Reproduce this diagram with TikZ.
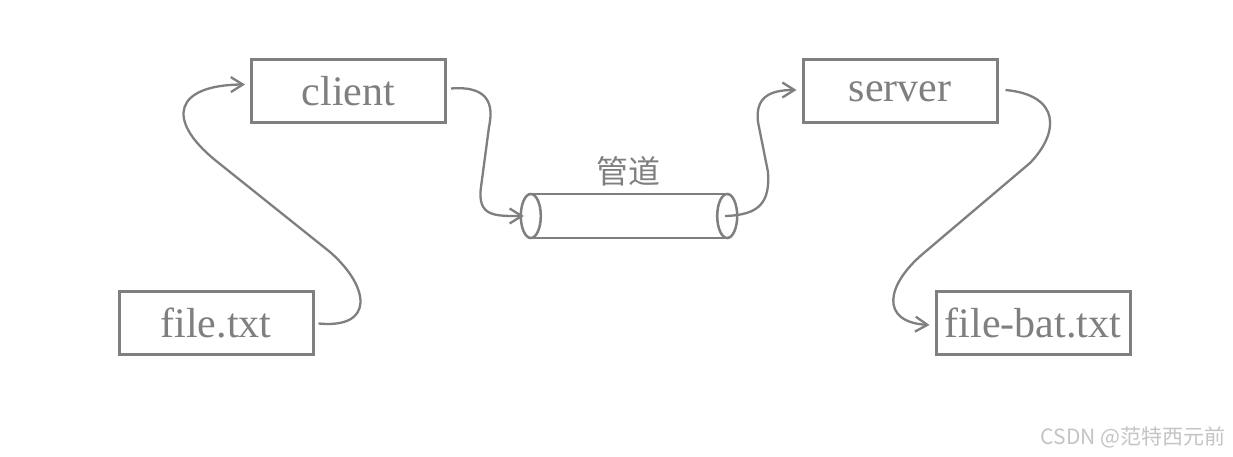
\documentclass[tikz,border=0pt]{standalone}
\usepackage{fontspec}
\setmainfont{Liberation Serif}
\newfontfamily\cjk{Noto Sans CJK SC}
\usetikzlibrary{arrows.meta}
\definecolor{ln}{HTML}{7F7F7F}
\definecolor{wm}{HTML}{C4C4C4}
\begin{document}
\begin{tikzpicture}[x=1pt,y=1pt,
  box/.style={draw=ln, line width=3pt, minimum width=194pt, minimum height=63pt, inner sep=0pt, text=ln, font=\fontsize{42}{46}\selectfont},
  conn/.style={draw=ln, line width=2.3pt, -{Straight Barb[length=12pt,width=15pt,line width=2.3pt]}},
  pipeline/.style={draw=ln, line width=2.5pt}]
\useasboundingbox[fill=white] (0,0) rectangle (1233,457);
\node[box] (client) at (348.5,365.5) {client};
\node[box] (file) at (216,133.5) {file.txt};
\node[box] (server) at (900,365.5) {server};
\node[box] (filebat) at (1033,133.5) {file-bat.txt};
% pipe
\node[minimum width=198pt, minimum height=44pt, inner sep=0pt] (pipe) at (629,241) {};
\node[text=ln, font=\cjk\fontsize{32}{34}\selectfont] (lbl) at (628,286) {管道};
\draw[pipeline] ([xshift=1pt]pipe.north west) -- ([xshift=-1pt]pipe.north east);
\draw[pipeline] ([xshift=1pt]pipe.south west) -- ([xshift=-1pt]pipe.south east);
\draw[pipeline] ([xshift=1pt]pipe.west) ellipse [x radius=10pt, y radius=22pt];
\draw[pipeline] ([xshift=-1pt]pipe.east) ellipse [x radius=10pt, y radius=22pt];
% connectors
\draw[conn] ([xshift=4pt]file.east) .. controls (375,128) and (370,170) .. (330,205) -- (215,297) .. controls (165,338) and (175,372) .. ([shift={(-5pt,7pt)}]client.west);
\draw[conn] ([shift={(4pt,3pt)}]client.east) .. controls (495,372) and (492,345) .. (489,330) -- (481,270) .. controls (477,240) and (495,241) .. ([xshift=-6pt]pipe.west);
\draw[conn] ([xshift=-3pt]pipe.east) .. controls (760,242) and (770,255) .. (768,285) -- (758,335) .. controls (755,360) and (770,367) .. ([shift={(-5pt,1.5pt)}]server.west);
\draw[conn] ([shift={(7pt,1.5pt)}]server.east) .. controls (1060,362) and (1060,325) .. (1030,294) -- (925,205) .. controls (885,172) and (880,135) .. ([shift={(-5pt,-1.5pt)}]filebat.west);
% watermark
\node[text=wm, font=\cjk\fontsize{21}{23}\selectfont, anchor=east] (wmk) at (1229,20) {CSDN @范特西元前};
\end{tikzpicture}
\end{document}
